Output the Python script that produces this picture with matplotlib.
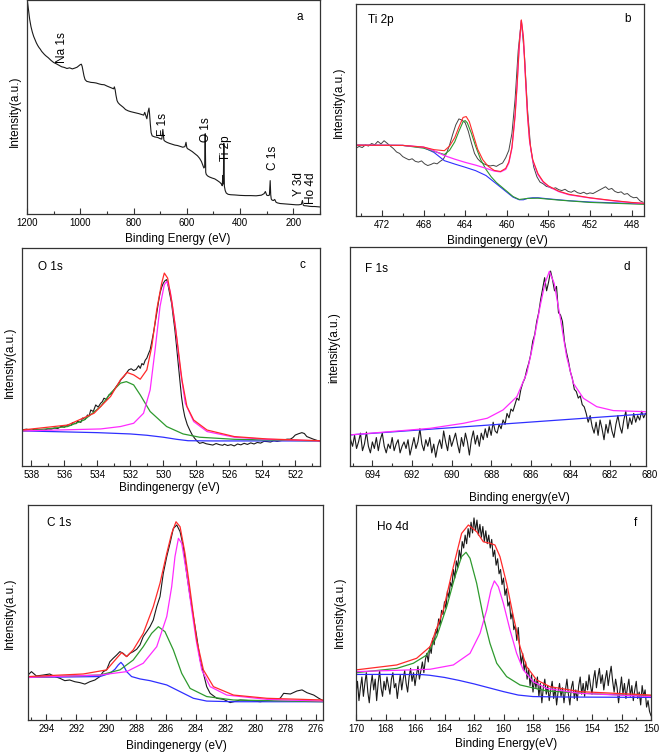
import numpy as np
import matplotlib.pyplot as plt
import matplotlib.transforms as mtransforms
from matplotlib.ticker import MultipleLocator

plt.rcParams['font.family'] = ['Liberation Sans', 'DejaVu Sans']

# ---------------- (a) survey spectrum ----------------
be_a = [1198, 1195, 1190, 1185, 1180, 1175, 1170, 1165, 1160, 1155, 1150, 1145, 1140, 1135, 1130,
        1120, 1110, 1100, 1090, 1080, 1070, 1060, 1050, 1040, 1030, 1020, 1012, 1005, 1000, 996,
        993, 990, 986, 982, 976, 970, 960, 950, 940, 930, 920, 910, 900, 890, 880, 875, 872, 869,
        866, 862, 858, 852, 845, 838, 830, 820, 810, 800, 790, 780, 770, 762, 758, 754, 750, 746,
        742, 740, 737, 734, 730, 720, 710, 700, 694, 690, 686, 682, 675, 665, 655, 645, 635, 625,
        615, 607, 603, 600, 597, 590, 580, 570, 560, 552, 545, 540, 536, 533, 531, 529, 527, 522,
        515, 505, 495, 485, 476, 470, 467, 465, 463, 461, 459, 456, 452, 445, 435, 420, 400, 380,
        360, 340, 320, 310, 305, 300, 295, 290, 287, 285, 283, 280, 275, 270, 265, 260, 250, 240,
        230, 220, 210, 200, 190, 180, 170, 166, 163, 160, 150, 140, 130, 120, 110, 101]
int_a = [99, 96, 91, 87.5, 85, 83, 81.5, 80, 78.8, 77.8, 77, 76, 75.3, 74.6, 74,
         73, 71.8, 70.8, 70.2, 69.5, 68.8, 68.5, 68, 68.3, 67.8, 68.2, 68.6, 69.3, 69.8, 70,
         69, 67, 64.5, 62.8, 62, 61.8, 61.5, 61.4, 61.2, 60.8, 60.5, 60.4, 59.8, 59.3, 58.8, 58.5,
         59.4, 58, 55.5, 53, 52, 51.2, 50.5, 49.8, 48.8, 48.2, 47.8, 47.5, 47.2, 46.9, 46.5, 46.2,
         47.5, 46, 44.5, 47.5, 49.5, 47, 42, 38, 36.5, 36, 35.8, 35.2, 35, 39.5, 34.5, 34, 33.5,
         33, 32.6, 32.2, 32, 31.6, 31.2, 31.5, 33.5, 31, 30.5, 30, 29.2, 28.2, 27.2, 26, 24.5,
         22.8, 21.5, 22, 37.5, 19.5, 18.5, 17.8, 17.3, 16.8, 16.4, 15.6, 14.8, 14, 13.2, 18, 14,
         33, 13, 11, 9.8, 9.2, 9, 8.9, 8.7, 8.6, 8.6, 8.5, 8.8, 9.5, 10.5, 8.8, 8.6, 8.8, 15.6, 9,
         7, 6.5, 6.3, 6.8, 5.5, 5.2, 4.9, 4.8, 4.7, 4.6, 4.5, 4.4, 4.3, 4.3, 4.5, 6.3, 4.2, 3.9,
         3.8, 3.6, 3.5, 3.5, 3.4, 3.3]
peaks_a = ['Na 1s', 'F 1s', 'O 1s', 'Ti 2p', 'C 1s', 'Y 3d', 'Ho 4d']
peaks_a_be = [1068, 689, 527, 452, 275, 177, 132]
peaks_a_y = [77.6, 41.6, 39.3, 30.8, 26.2, 14.0, 12.1]

# ---------------- (b) Ti 2p ----------------
int_b = [32.0, 32.8, 32.3, 33.5, 33.0, 34.2, 33.6, 35.2, 34.0, 35.5, 34.3, 33.0, 31.8, 30.2, 29.5,
         28.0, 27.2, 26.5, 27.0, 25.8, 25.4, 26.0, 24.6, 23.8, 24.3, 25.0, 24.6, 25.8, 26.8, 29.5,
         33.5, 38.5, 43.0, 45.8, 45.2, 44.0, 40.0, 34.5, 29.5, 27.0, 25.5, 24.6, 24.0, 23.6, 23.9,
         23.4, 24.3, 25.0, 27.5, 31.0, 39.0, 55.0, 78.0, 92.2, 76.0, 50.0, 32.0, 23.0, 18.5, 16.0,
         15.2, 14.0, 13.6, 12.9, 13.3, 12.4, 12.0, 12.6, 11.6, 11.2, 12.0, 11.0, 10.6, 11.2, 10.4,
         10.9, 10.6, 11.4, 12.2, 13.0, 13.8, 12.5, 13.0, 11.6, 11.0, 11.4, 10.2, 10.6, 9.3, 8.6,
         8.8, 7.2, 6.5]
be_b = np.linspace(474.5, 446.9, len(int_b))
bg_b_be = [474.5, 470, 468, 467, 466, 465, 464, 463, 462, 461, 460, 459.4, 458.8, 458.4, 458,
           457.5, 457, 456, 455, 454, 452, 450, 448, 446.8]
bg_b = [33.4, 33.3, 32.3, 30, 26.1, 24.5, 23, 21.4, 19.1, 15.2, 11.25, 8.9, 7.65, 7.65, 8.3,
        8.6, 8.6, 8.1, 7.65, 7.2, 6.6, 6.25, 5.9, 5.8]
g_b_be = [474.5, 470, 468, 467, 466, 465.5, 465, 464.6, 464.2, 464, 463.8, 463.4, 463, 462.5,
          462, 461.5, 461, 460, 459.4, 458.8, 458, 457, 455, 452, 446.8]
g_b = [33.4, 33.3, 32, 30.5, 29, 31, 35, 40, 44.5, 45, 44, 39, 33, 26.5, 22, 18.5, 15.8, 11.7,
       9.2, 7.8, 8.3, 8.4, 7.5, 6.4, 5.5]
m_b_be = [474.5, 470, 468, 467, 466, 465, 464, 463, 462, 461.2, 460.6, 460.1, 459.8, 459.5,
          459.2, 459, 458.8, 458.6, 458.4, 458.2, 458, 457.8, 457.5, 457, 456.5, 456, 455, 454,
          452, 450, 448, 446.8]
m_b = [33.4, 33.3, 32.5, 30.8, 28.5, 26.8, 25.3, 24, 22.5, 21.2, 20.8, 22, 25, 32, 47, 62, 80,
       92.2, 84, 65, 47, 35, 26, 19.5, 16, 14, 11.5, 10, 8.5, 7.3, 6.3, 5.9]
r_b_be = [474.5, 470, 468, 467, 466, 465.5, 465, 464.6, 464.2, 463.9, 463.6, 463.2, 462.8,
          462.3, 461.8, 461.2, 460.6, 460.1, 459.8, 459.5, 459.2, 459, 458.8, 458.6, 458.4,
          458.2, 458, 457.8, 457.5, 457, 456.5, 456, 455, 454, 452, 450, 448, 446.8]
r_b = [33.4, 33.3, 32.5, 31.3, 30.8, 33, 37, 42, 46.5, 46.9, 44.5, 38, 31.5, 26.5, 23.5, 21.5,
       21, 22.5, 25.5, 32.5, 47.5, 62.5, 80.5, 92.5, 84.5, 65.5, 47.5, 35.5, 26.5, 20, 16.3,
       14.2, 11.7, 10.2, 8.6, 7.4, 6.4, 6.0]

# ---------------- (c) O 1s ----------------
be_c = [538.55, 538.3, 538.0, 537.8, 537.5, 537.25, 537.0, 536.8, 536.6, 536.4, 536.2, 536.0,
        535.8, 535.6, 535.5, 535.3, 535.2, 535.0, 534.9, 534.75, 534.6, 534.5, 534.4, 534.25,
        534.1, 533.95, 533.8, 533.7, 533.6, 533.45, 533.3, 533.15, 533.0, 532.85, 532.7, 532.55,
        532.4, 532.25, 532.1, 531.95, 531.8, 531.65, 531.5, 531.4, 531.3, 531.2, 531.1, 531.0,
        530.9, 530.8, 530.7, 530.6, 530.5, 530.4, 530.3, 530.2, 530.1, 530.0, 529.9, 529.8,
        529.7, 529.6, 529.5, 529.4, 529.3, 529.2, 529.1, 529.0, 528.9, 528.8, 528.7, 528.55,
        528.4, 528.25, 528.1, 527.95, 527.8, 527.6, 527.4, 527.2, 527.0, 526.8, 526.6, 526.4,
        526.3, 526.1, 525.9, 525.7, 525.5, 525.3, 525.1, 524.9, 524.7, 524.5, 524.3, 524.1,
        523.9, 523.7, 523.5, 523.3, 523.1, 522.9, 522.7, 522.5, 522.3, 522.15, 522.0, 521.8,
        521.6, 521.45, 521.3, 521.1, 520.9, 520.7, 520.5]
int_c = [16.6, 16.9, 16.4, 16.9, 16.6, 16.4, 17.0, 16.9, 17.4, 17.2, 18.2, 17.8, 18.8, 18.6,
         19.9, 19.4, 20.5, 20.0, 22.0, 21.3, 23.4, 23.0, 25.7, 25.0, 28.0, 27.0, 28.8, 29.5,
         31.1, 30.5, 32.6, 33.2, 34.9, 36.5, 38.0, 39.8, 41.0, 42.5, 44.1, 44.6, 43.8, 44.3,
         46.0, 44.8, 47.0, 46.4, 48.5, 49.5, 51.5, 53.3, 57.0, 61.0, 65.5, 70.1, 75.0, 79.3,
         82.0, 83.9, 85.0, 85.5, 82.4, 78.5, 74.7, 68.5, 62.5, 55.0, 47.2, 39.5, 31.9, 26.5,
         22.7, 19.0, 16.5, 14.3, 12.7, 11.4, 10.4, 10.8, 10.2, 9.9, 9.6, 10.3, 9.8, 9.5, 10.0,
         9.4, 9.8, 9.2, 10.1, 9.7, 10.4, 9.9, 10.6, 10.1, 10.8, 10.5, 11.3, 11.2, 11.0, 11.6,
         11.3, 11.6, 11.9, 12.3, 12.3, 13.0, 14.2, 14.8, 15.3, 14.9, 13.5, 12.9, 12.3, 11.8, 11.2]
bg_c_be = [538.57, 534, 532, 531, 530, 529.2, 528.5, 527, 520.5]
bg_c = [16.1, 15.3, 14.7, 14.1, 13.2, 12.25, 11.6, 11.5, 11.5]
g_c_be = [538.57, 537.86, 536.85, 535.8, 534.8, 533.8, 533.2, 532.6, 532.24, 531.8, 531.4,
          530.8, 529.8, 528.8, 527.8, 525.7, 520.5]
g_c = [16.1, 16.5, 17.2, 18.1, 21.1, 27.3, 33.4, 38, 38.7, 37.2, 32.6, 25, 18.1, 14.7, 13.2,
       12.25, 11.5]
m_c_be = [538.57, 533.8, 532.6, 531.8, 531.2, 530.8, 530.5, 530.2, 529.94, 529.78, 529.58,
          529.27, 528.97, 528.67, 528.16, 527.35, 525.7, 523.7, 520.5]
m_c = [16.1, 17, 18.1, 19.6, 24.2, 34.9, 53.3, 73.2, 83.2, 84.7, 80.1, 64, 44.1, 28.8, 20.4,
       15.8, 13.2, 12.25, 11.5]
r_c_be = [538.57, 535.8, 534.2, 533.2, 532.6, 532.2, 531.8, 531.4, 531.0, 530.7, 530.4, 530.1,
          529.94, 529.74, 529.47, 529.17, 528.87, 528.57, 528.16, 527.35, 525.7, 523.7, 520.5]
r_c = [16.5, 18.8, 24.2, 31.9, 39.5, 42.9, 41.8, 39.8, 44.1, 54.8, 71.7, 83.9, 88.5, 86.2, 74.7,
       57.9, 39.5, 27.3, 21.1, 16.5, 13.5, 12.4, 11.6]

# ---------------- (d) F 1s ----------------
int_d = [12, 9, 14, 8, 11, 15, 7, 10, 15.5, 9, 6, 11, 8, 13, 7, 12, 15, 9, 6, 10, 8, 13, 7, 10,
         12, 6, 9, 11, 8, 12, 5, 9, 13, 8, 11, 17, 10, 7, 12, 9, 13, 6, 10, 4, 9, 12, 8, 16, 11,
         7, 14, 9, 12, 15, 10, 6, 13, 9, 15, 11, 5, 12, 16, 10, 14, 9, 15, 12, 17, 13, 18,
         14, 20, 16, 15, 19, 17, 21, 19, 24, 22, 26, 25, 28, 31, 30, 35, 38, 40, 44, 47, 51, 57,
         60, 66, 70, 76, 81, 86, 80, 84, 89, 85, 80, 82, 70, 69, 66, 57, 52, 48, 43, 40, 35, 34,
         31, 32, 28, 27, 24, 20, 23, 18, 15, 20, 14, 21, 17, 12, 19, 15, 21, 16, 13, 19, 23, 18,
         15, 21, 25, 17, 22, 19, 24, 20, 23, 21, 25, 22, 24]
be_d = np.linspace(695.1, 680.2, len(int_d))
bg_d_be = [695.13, 680.18]
bg_d = [14.2, 23.8]
m_d_be = [695.13, 691.09, 689.4, 688.2, 687.4, 686.7, 686.2, 685.87, 685.53, 685.28, 685.06,
          684.82, 684.52, 684.19, 683.85, 683.34, 682.67, 681.83, 680.18]
m_d = [14.2, 17.2, 19.5, 21.8, 25.6, 31.7, 42.4, 56.1, 72.9, 83.5, 88.9, 83.5, 68.3, 50, 37.8,
       30.9, 27.1, 25.3, 24.8]

# ---------------- (e) C 1s ----------------
be_e = [295.23, 295.0, 294.67, 294.22, 293.78, 293.44, 293.1, 292.77, 292.44, 292.1, 291.77,
        291.43, 291.1, 290.76, 290.43, 290.2, 289.98, 289.76, 289.54, 289.31, 289.09, 288.87,
        288.64, 288.42, 288.2, 287.97, 287.75, 287.53, 287.3, 287.08, 286.86, 286.63, 286.41,
        286.19, 285.96, 285.74, 285.52, 285.29, 285.07, 284.85, 284.63, 284.4, 284.18, 283.96,
        283.73, 283.51, 283.29, 283.06, 282.62, 282.17, 281.72, 281.05, 280.38, 279.71, 279.04,
        278.38, 278.15, 277.7, 277.26, 276.92, 276.59, 276.14, 275.8, 275.52]
int_e = [20.9, 22.5, 20.5, 20.9, 21.4, 20.2, 19.4, 18.3, 18.6, 17.8, 17.4, 16.7, 17.8, 18.6,
         20.2, 22.5, 23.3, 27.1, 28.7, 30.2, 31.8, 31.0, 29.5, 31.0, 31.8, 32.9, 34.9, 38.8,
         41.1, 43.4, 46.5, 52.7, 57.4, 68.2, 76.0, 82.2, 89.1, 90.7, 87.6, 80.6, 68.2, 57.4,
         48.1, 38.8, 27.9, 21.7, 15.5, 12.4, 10.1, 9.6, 8.1, 9.3, 9.0, 8.5, 9.3, 10.1, 12.4,
         12.1, 13.5, 14.0, 12.7, 11.6, 10.1, 9.0]
bg_e_be = [295.23, 290.43, 289.76, 289.42, 289.2, 289.02, 288.87, 288.64, 288.31, 287.75,
           287.08, 285.96, 285.07, 284.18, 283.29, 281.5, 275.52]
bg_e = [19.8, 20.2, 21.7, 23.6, 25.6, 26.8, 25.6, 22.5, 20.2, 19.1, 18.3, 16.3, 13.2, 10.1,
        8.8, 8.5, 8.5]
g_e_be = [295.23, 290.43, 289.09, 288.2, 287.53, 286.97, 286.52, 286.08, 285.52, 284.96,
          284.4, 283.29, 281.5, 275.52]
g_e = [19.8, 20.9, 23.3, 27.9, 34.1, 40.3, 43.4, 41.1, 32.6, 21.7, 14.7, 10.9, 9.3, 8.5]
m_e_be = [295.23, 290.43, 288.64, 287.53, 286.63, 285.96, 285.63, 285.41, 285.18, 284.96,
          284.63, 284.29, 283.96, 283.62, 283.06, 281.95, 279.27, 275.52]
m_e = [19.8, 20.9, 22.5, 26.4, 34.1, 48.1, 62, 76, 84.5, 82.2, 68.2, 51.2, 35.7, 23.3, 15.5,
       11.6, 9.6, 8.8]
r_e_be = [295.23, 291.54, 289.98, 289.31, 288.98, 288.64, 288.2, 287.53, 286.86, 286.41,
          285.96, 285.63, 285.34, 285.07, 284.74, 284.4, 283.96, 283.51, 282.84, 281.5, 279.27,
          275.52]
r_e = [20.2, 21.4, 23.3, 28.7, 31.3, 29.5, 32.6, 40.3, 52.7, 63.6, 77.5, 86.8, 92.2, 89.9,
       77.5, 60.5, 37.2, 23.3, 15.5, 11.6, 10.1, 9.3]

# ---------------- (f) Ho 4d ----------------
int_f = [12, 18, 9, 15, 20, 11, 17, 22, 13, 8, 16, 21, 14, 19, 9, 17, 23, 15, 11, 18, 14, 20,
         16, 12, 19, 22, 15, 17, 10, 16, 21, 14, 19, 23, 17, 13, 20, 24, 18, 22, 16, 21, 25, 19,
         23, 27, 22, 28, 31, 27, 34, 31, 38, 35, 42, 40, 47, 44, 51, 49, 55, 52, 60, 57, 64, 62,
         70, 66, 74, 71, 79, 75, 83, 80, 86, 82, 89, 85, 92, 87, 94, 88, 93, 86, 91, 85, 90, 83,
         88, 82, 86, 80, 84, 76, 79, 72, 75, 68, 70, 63, 66, 58, 61, 53, 55, 47, 50, 42, 44, 37,
         43, 33, 26, 31, 23, 27, 19, 24, 16, 21, 13, 19, 15, 20, 11, 17, 8, 15, 19, 12, 16, 9,
         14, 18, 10, 15, 7, 13, 17, 11, 15, 8, 14, 19, 12, 7, 15, 18, 10, 14, 9, 16, 20, 12, 17,
         11, 18, 14, 21, 16, 12, 19, 23, 15, 20, 24, 17, 21, 14, 19, 23, 16, 21, 25, 18, 13, 19,
         15, 8, 14, 20, 12, 17, 10, 15, 19, 11, 16, 9, 14, 18, 10, 13, 7, 16, 11, 14, 6, 9, 4, 2]
be_f = np.linspace(170.0, 150.0, len(int_f))
bg_f_be = [170, 167, 165.5, 165, 164, 163, 162, 161, 160, 159, 158, 156, 150]
bg_f = [21.2, 21.2, 21.1, 20.8, 19.8, 18.4, 16.8, 15, 13.2, 11.6, 10.9, 10.7, 10.5]
g_f_be = [170, 167.24, 166.11, 165.21, 164.53, 163.85, 163.29, 162.84, 162.54, 162.27, 161.82,
          161.37, 160.92, 160.46, 159.79, 158.88, 157.07, 153.68, 150]
g_f = [22, 24, 26.4, 30.2, 38.8, 52.7, 66.7, 76, 78, 75.2, 63.6, 48.1, 35.7, 26.4, 20.2, 16.3,
       13.5, 12.1, 11.2]
m_f_be = [170, 164.98, 163.4, 162.27, 161.59, 161.14, 160.85, 160.62, 160.35, 160.01, 159.56,
          159.11, 158.66, 157.98, 157.07, 154.81, 150]
m_f = [22.5, 23.6, 25.6, 31, 40.3, 51.2, 60.5, 64.7, 62, 54.3, 41.9, 31, 23.3, 17.8, 14.7,
       12.4, 10.9]
r_f_be = [170, 167.24, 165.89, 164.98, 164.08, 163.4, 162.84, 162.38, 161.82, 161.37, 160.92,
          160.58, 160.24, 159.79, 159.33, 158.88, 158.43, 157.75, 156.85, 154.81, 150]
r_f = [23.3, 25.6, 28.7, 34.1, 51.2, 71.3, 86.8, 90.7, 87.6, 82.9, 82.2, 81.4, 76, 63.6, 48.1,
       34.1, 24.8, 18.6, 15.5, 13.2, 11.6]

# colours of the fitted curves
c_raw = '#1a1a1a'
c_bg = '#2f2fff'
c_g = '#2e9a2e'
c_m = '#ff2bff'
c_r = '#ff2a2a'

fig = plt.figure(figsize=(6.6, 7.53), dpi=100)
W, H = 660.0, 753.0


def make_axes(l, t, r, b, xlim, major, minor):
    # box given in pixels of the final picture
    ax = fig.add_axes([l / W, 1 - b / H, (r - l) / W, (b - t) / H])
    ax.set_xlim(*xlim)
    ax.set_ylim(0, 100)
    ax.set_yticks([])
    ax.xaxis.set_major_locator(MultipleLocator(major))
    ax.xaxis.set_minor_locator(MultipleLocator(minor))
    ax.tick_params(axis='x', which='major', direction='in', length=4, width=0.8,
                   labelsize=7, pad=3, color='#333333')
    ax.tick_params(axis='x', which='minor', direction='in', length=2.5, width=0.8,
                   color='#333333')
    for s in ax.spines.values():
        s.set_linewidth(0.9)
        s.set_color('#333333')
    return ax


# panel a
ax = make_axes(27, 0, 320, 214, (1200, 100), 200, 100)
ax.plot(be_a, int_a, color=c_raw, lw=0.8)
for name, x, y in zip(peaks_a, peaks_a_be, peaks_a_y):
    ax.text(x, y, name, rotation=90, ha='center', va='center', fontsize=8.5)
ax.text(0.932, 0.92, 'a', transform=ax.transAxes, ha='center', va='center', fontsize=8.5)

# panel b
ax = make_axes(356, 4, 644, 216, (474.5, 446.8), 4, 2)
ax.plot(be_b, int_b, color='#444444', lw=0.7)
ax.plot(bg_b_be, bg_b, color=c_bg, lw=0.8)
ax.plot(g_b_be, g_b, color=c_g, lw=0.8)
ax.plot(m_b_be, m_b, color=c_m, lw=0.9)
ax.plot(r_b_be, r_b, color=c_r, lw=0.8)
ax.text(0.042, 0.925, 'Ti 2p', transform=ax.transAxes, ha='left', va='center', fontsize=8.5)
ax.text(0.944, 0.93, 'b', transform=ax.transAxes, ha='center', va='center', fontsize=8.5)

# panel c
ax = make_axes(22, 248, 320, 466, (538.57, 520.5), 2, 1)
ax.plot(be_c, int_c, color=c_raw, lw=0.8)
ax.plot(bg_c_be, bg_c, color=c_bg, lw=0.9)
ax.plot(g_c_be, g_c, color=c_g, lw=0.9)
ax.plot(m_c_be, m_c, color=c_m, lw=0.9)
ax.plot(r_c_be, r_c, color=c_r, lw=0.9)
ax.text(0.054, 0.913, 'O 1s', transform=ax.transAxes, ha='left', va='center', fontsize=8.5)
ax.text(0.94, 0.922, 'c', transform=ax.transAxes, ha='center', va='center', fontsize=8.5)

# panel d
ax = make_axes(350, 247, 646, 466, (695.13, 680.18), 2, 1)
ax.plot(be_d, int_d, color=c_raw, lw=0.8)
ax.plot(bg_d_be, bg_d, color=c_bg, lw=0.9)
ax.plot(m_d_be, m_d, color=c_m, lw=0.9)
ax.text(0.051, 0.90, 'F 1s', transform=ax.transAxes, ha='left', va='center', fontsize=8.5)
ax.text(0.936, 0.909, 'd', transform=ax.transAxes, ha='center', va='center', fontsize=8.5)
# the 680 label sits just past the right spine in the original
trans = mtransforms.blended_transform_factory(ax.transData, ax.transAxes)
ax.text(680, -0.02, '680', transform=trans, ha='center', va='top', fontsize=7, clip_on=False)

# panel e
ax = make_axes(28, 505, 323, 720, (295.23, 275.52), 2, 1)
ax.plot(be_e, int_e, color=c_raw, lw=0.8)
ax.plot(bg_e_be, bg_e, color=c_bg, lw=0.9)
ax.plot(g_e_be, g_e, color=c_g, lw=0.9)
ax.plot(m_e_be, m_e, color=c_m, lw=0.9)
ax.plot(r_e_be, r_e, color=c_r, lw=0.9)
ax.text(0.064, 0.916, 'C 1s', transform=ax.transAxes, ha='left', va='center', fontsize=8.5)

# panel f
ax = make_axes(356, 505, 651, 720, (170, 150), 2, 1)
ax.plot(be_f, int_f, color=c_raw, lw=0.8)
ax.plot(bg_f_be, bg_f, color=c_bg, lw=0.9)
ax.plot(g_f_be, g_f, color=c_g, lw=0.9)
ax.plot(m_f_be, m_f, color=c_m, lw=0.9)
ax.plot(r_f_be, r_f, color=c_r, lw=0.9)
ax.text(0.071, 0.90, 'Ho 4d', transform=ax.transAxes, ha='left', va='center', fontsize=8.5)
ax.text(0.946, 0.916, 'f', transform=ax.transAxes, ha='center', va='center', fontsize=8.5)

# axis titles, placed where they sit in the original figure
xlabels = ['Binding Energy (eV)', 'Bindingenergy (eV)', 'Bindingenergy (eV)',
           'Binding energy(eV)', 'Bindingenergy (eV)', 'Binding Energy(eV)']
xlabel_pos = [(178, 239), (497, 241), (169, 488), (519, 498), (176, 746), (506, 744)]
for lab, (px, py) in zip(xlabels, xlabel_pos):
    fig.text(px / W, 1 - py / H, lab, ha='center', va='center', fontsize=8.5)

ylabels = ['Intensity(a.u.)', 'Intensity(a.u.)', 'Intensity(a.u.)',
           'intensity(a.u.)', 'Intensity(a.u.)', 'Intensity(a.u.)']
ylabel_pos = [(15, 111), (339, 102), (10, 362), (334, 348), (10, 613), (340, 612)]
for lab, (px, py) in zip(ylabels, ylabel_pos):
    fig.text(px / W, 1 - py / H, lab, ha='center', va='center', rotation=90, fontsize=8.5)

fig.savefig('out.png', dpi=100)
